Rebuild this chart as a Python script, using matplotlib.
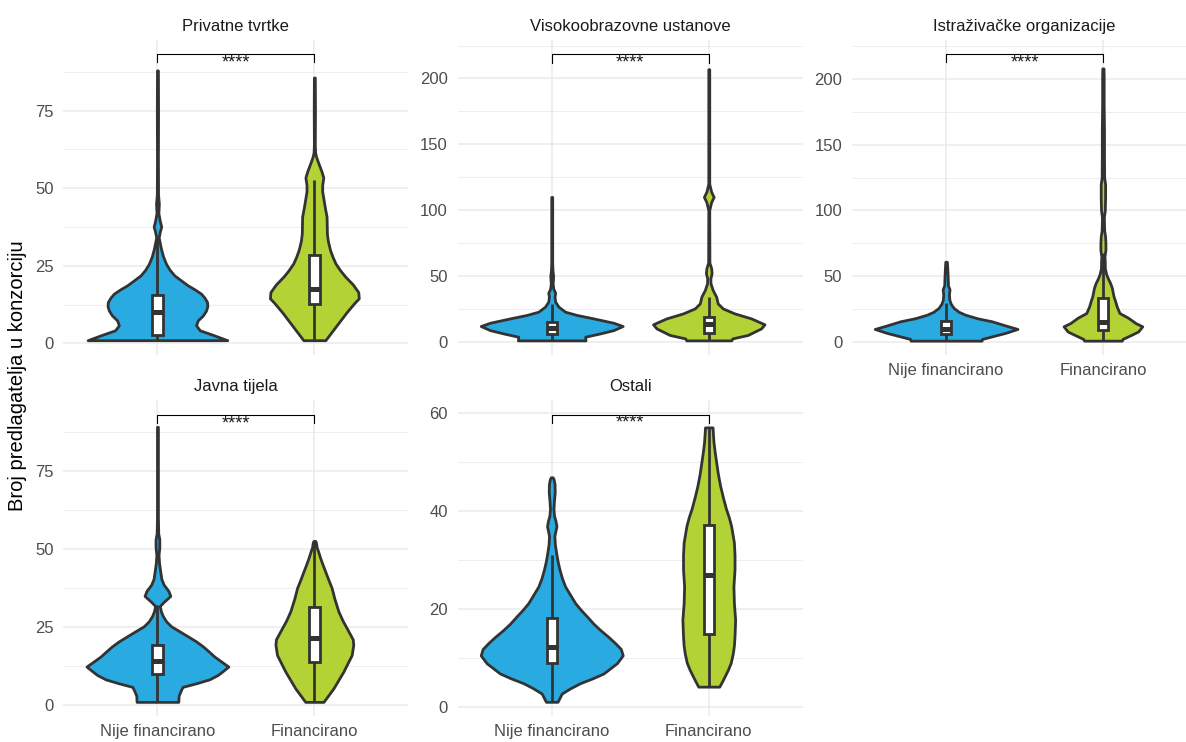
import numpy as np
import matplotlib.pyplot as plt
from matplotlib.patches import Rectangle

plt.rcParams['font.family'] = ['Liberation Sans', 'DejaVu Sans']

groups = ['Nije financirano', 'Financirano']
colors = ['#29ABE2', '#B3D235']
edge = '#333333'

# violin outlines: y value and half width (category units)
# Privatne tvrtke
pt_nf_y = [1, 2.6, 4.2, 5.8, 7.4, 9, 10.6, 12, 13.3, 14.7, 16, 17.3, 18.7, 20.3, 21.9, 23.7, 25.6, 28, 30.4,
           34.1, 36, 37.6, 39.5, 42, 45, 48, 60, 75, 88]
pt_nf_w = [0.445, 0.36, 0.27, 0.246, 0.257, 0.29, 0.31, 0.318, 0.316, 0.30, 0.278, 0.24, 0.193, 0.15, 0.108,
           0.078, 0.055, 0.036, 0.023, 0.008, 0.015, 0.024, 0.015, 0.006, 0.009, 0.004, 0.003, 0.004, 0.003]
pt_f_y = [1, 4, 7, 10, 13, 14.5, 16.5, 19, 21.5, 23.5, 25.8, 28, 30.1, 33, 35.4, 38, 40.8, 43.5, 46.2, 49, 51,
          53.5, 55.5, 57.9, 60, 61.5, 64, 75, 85.7]
pt_f_w = [0.07, 0.115, 0.16, 0.205, 0.255, 0.283, 0.28, 0.245, 0.197, 0.165, 0.134, 0.115, 0.1, 0.086, 0.08,
          0.079, 0.078, 0.068, 0.059, 0.05, 0.05, 0.057, 0.045, 0.027, 0.012, 0.005, 0.003, 0.004, 0.003]

# Visokoobrazovne ustanove
vu_nf_y = [1, 3.8, 6.3, 8.8, 11.9, 14.4, 17.7, 20.3, 22.8, 26.6, 30.4, 34.2, 37.2, 40.3, 44, 50, 54, 60, 110]
vu_nf_w = [0.215, 0.213, 0.308, 0.393, 0.452, 0.393, 0.266, 0.16, 0.085, 0.043, 0.022, 0.018, 0.022, 0.01,
           0.006, 0.009, 0.005, 0.003, 0.003]
vu_f_y = [1, 2.5, 5.1, 10.1, 13.2, 17.7, 21.5, 25.3, 29.1, 34.2, 39.3, 44.3, 48, 52, 56, 60, 100, 106, 110,
          114, 120, 207]
vu_f_w = [0.143, 0.15, 0.248, 0.333, 0.355, 0.27, 0.164, 0.089, 0.057, 0.047, 0.025, 0.011, 0.01, 0.018,
          0.015, 0.004, 0.003, 0.015, 0.031, 0.015, 0.003, 0.003]

# Istrazivacke organizacije
io_nf_y = [1, 2.3, 4.5, 6.9, 9.9, 12.5, 15.7, 18, 20.7, 23, 25.8, 29, 32, 36, 40, 43, 50, 55, 61]
io_nf_w = [0.226, 0.229, 0.3, 0.378, 0.455, 0.38, 0.293, 0.2, 0.123, 0.08, 0.049, 0.03, 0.021, 0.018, 0.022,
           0.012, 0.01, 0.008, 0.005]
io_f_y = [1, 2.3, 5.6, 8, 11.9, 14.4, 18.5, 22, 27, 31.1, 34.6, 41.2, 44.6, 48.8, 52, 56.4, 60, 65, 70, 75,
          80, 85, 95, 100, 110, 120, 125, 140, 160, 180, 200, 208]
io_f_w = [0.12, 0.125, 0.184, 0.225, 0.251, 0.208, 0.16, 0.106, 0.088, 0.078, 0.068, 0.057, 0.047, 0.03,
          0.02, 0.012, 0.012, 0.01, 0.016, 0.016, 0.014, 0.008, 0.006, 0.012, 0.014, 0.014, 0.008, 0.007,
          0.007, 0.005, 0.005, 0.004]

# Javna tijela
jt_nf_y = [1, 3, 4.8, 5.8, 7, 8.2, 9.6, 11, 12.3, 13.8, 15.5, 17, 18.8, 20.4, 22, 23.6, 25.2, 26.8, 28.5, 30,
           31.7, 33, 34.9, 36.5, 38.5, 40.3, 43, 45.6, 48, 50.5, 53, 55, 60, 75, 89]
jt_nf_w = [0.133, 0.135, 0.15, 0.16, 0.25, 0.33, 0.384, 0.42, 0.452, 0.41, 0.363, 0.33, 0.289, 0.245, 0.193,
           0.14, 0.087, 0.055, 0.034, 0.022, 0.015, 0.04, 0.082, 0.07, 0.04, 0.025, 0.017, 0.01, 0.007,
           0.012, 0.012, 0.005, 0.003, 0.003, 0.003]
jt_f_y = [1, 5.3, 10.7, 16, 19.3, 21, 23.6, 27, 30, 34, 37.5, 40, 42.9, 45, 47.2, 49, 50.4, 52, 52.5]
jt_f_w = [0.058, 0.121, 0.185, 0.238, 0.248, 0.245, 0.217, 0.18, 0.153, 0.128, 0.11, 0.09, 0.068, 0.052,
          0.036, 0.025, 0.015, 0.01, 0.006]

# Ostali
os_nf_y = [1, 2.7, 3.8, 4.8, 5.8, 6.8, 8.9, 10.5, 11.8, 13, 14.3, 15.7, 17, 18.5, 19.8, 21.2, 23, 24.6, 26.3,
           28.1, 29.8, 31.5, 33.2, 34.9, 36, 36.9, 38, 39, 40.4, 42, 43.8, 45.5, 46.5, 46.9]
os_nf_w = [0.037, 0.064, 0.12, 0.18, 0.26, 0.33, 0.415, 0.452, 0.44, 0.404, 0.36, 0.308, 0.265, 0.223, 0.185,
           0.149, 0.115, 0.085, 0.065, 0.049, 0.037, 0.028, 0.02, 0.017, 0.024, 0.03, 0.024, 0.015, 0.011,
           0.014, 0.019, 0.018, 0.012, 0.006]
os_f_y = [4.1, 5.5, 7.5, 9, 10.9, 12.5, 14.4, 17.8, 21.2, 24.6, 28.1, 31, 33.6, 37, 38.8, 40.4, 42.8, 45.2,
          47.6, 50, 52, 54.1, 56, 57.1]
os_f_w = [0.067, 0.09, 0.121, 0.14, 0.153, 0.16, 0.164, 0.168, 0.16, 0.157, 0.164, 0.164, 0.16, 0.142, 0.127,
          0.11, 0.09, 0.072, 0.058, 0.047, 0.038, 0.03, 0.026, 0.024]

# box stats: lower whisker, q1, median, q3, upper whisker
pt_box = [[1, 2.8, 10.1, 15.7, 34.5], [1, 12.6, 17.6, 28.6, 52.5]]
vu_box = [[1, 5.8, 10.1, 15.2, 29], [1, 6.8, 13.2, 18.5, 34]]
io_box = [[1, 6.3, 10, 15.7, 29.5], [1, 9.3, 15, 33.4, 68]]
jt_box = [[1, 10, 14.2, 19.1, 32.1], [1, 13.7, 21.4, 31.3, 52.5]]
os_box = [[1, 8.9, 12.3, 18.1, 31.1], [4.1, 14.9, 27.0, 37.1, 57.1]]

# significance bracket (line y, tick bottom y)
pt_sig = [93.3, 90.6]
vu_sig = [218.4, 212.1]
io_sig = [219, 212.5]
jt_sig = [92.8, 90.2]
os_sig = [59.7, 58.0]

panels = [
    ('Privatne tvrtke', [(pt_nf_y, pt_nf_w), (pt_f_y, pt_f_w)], pt_box, pt_sig,
     [0, 25, 50, 75], (-3.77, 97.8), (63.3, 40, 408.5, 355), False),
    ('Visokoobrazovne ustanove', [(vu_nf_y, vu_nf_w), (vu_f_y, vu_f_w)], vu_box, vu_sig,
     [0, 50, 100, 150, 200], (-10.1, 229.2), (457.5, 40, 803, 355), False),
    ('Istraživačke organizacije', [(io_nf_y, io_nf_w), (io_f_y, io_f_w)], io_box, io_sig,
     [0, 50, 100, 150, 200], (-9.9, 229.6), (852, 40, 1197, 355), True),
    ('Javna tijela', [(jt_nf_y, jt_nf_w), (jt_f_y, jt_f_w)], jt_box, jt_sig,
     [0, 25, 50, 75], (-3.52, 97.6), (63.3, 400, 408.5, 716), True),
    ('Ostali', [(os_nf_y, os_nf_w), (os_f_y, os_f_w)], os_box, os_sig,
     [0, 20, 40, 60], (-1.9, 62.7), (457.5, 400, 803, 716), True),
]

W, H = 1186, 742
fig = plt.figure(figsize=(W / 100, H / 100), dpi=100)
fig.patch.set_facecolor('white')

bw = 0.033
lw = 2.0
for title, viols, boxes, sig, ticks, ylim, box_px, show_x in panels:
    l, t, r, b = box_px
    ax = fig.add_axes([l / W, 1 - b / H, (r - l) / W, (b - t) / H])
    for s in ax.spines.values():
        s.set_visible(False)
    step = ticks[1] - ticks[0]
    minor = [v + step / 2 for v in ticks]
    ax.set_yticks(ticks)
    ax.set_yticks(minor, minor=True)
    ax.set_xticks([1, 2])
    ax.set_xlim(0.4, 2.6)
    ax.set_ylim(*ylim)
    ax.grid(True, which='major', color='#EBEBEB', lw=1.1)
    ax.grid(True, which='minor', axis='y', color='#EBEBEB', lw=0.6)
    ax.set_axisbelow(True)
    ax.tick_params(which='both', length=0, labelsize=12, labelcolor='#4D4D4D')
    ax.tick_params(axis='y', pad=7)
    ax.tick_params(axis='x', pad=5.5)
    if show_x:
        ax.set_xticklabels(groups)
    else:
        ax.set_xticklabels([])
    ax.set_title(title, fontsize=12, color='#1A1A1A', pad=6.7)

    for i, (vy, vw) in enumerate(viols):
        c = i + 1
        vy = np.array(vy)
        vw = np.array(vw)
        ax.fill_betweenx(vy, c - vw, c + vw, facecolor=colors[i], edgecolor=edge, lw=lw, zorder=2)
        lo, q1, med, q3, hi = boxes[i]
        ax.plot([c, c], [lo, q1], color=edge, lw=lw, zorder=3, solid_capstyle='butt')
        ax.plot([c, c], [q3, hi], color=edge, lw=lw, zorder=3, solid_capstyle='butt')
        ax.add_patch(Rectangle((c - bw, q1), 2 * bw, q3 - q1, facecolor='white', edgecolor=edge,
                               lw=lw, zorder=4))
        ax.plot([c - bw, c + bw], [med, med], color=edge, lw=3.6, zorder=5, solid_capstyle='butt')

    ax.plot([1, 1, 2, 2], [sig[1], sig[0], sig[0], sig[1]], color='black', lw=0.8, zorder=6)
    ax.annotate('****', xy=(1.5, sig[0]), xytext=(0, -9.4), textcoords='offset points',
                ha='center', va='baseline', fontsize=13, color='#1A1A1A', zorder=7)

fig.text(18 / W, 1 - 376 / H, 'Broj predlagatelja u konzorciju', rotation=90, ha='center', va='center',
         fontsize=14.5, color='black')

fig.savefig('out.png', dpi=100, facecolor='white')
